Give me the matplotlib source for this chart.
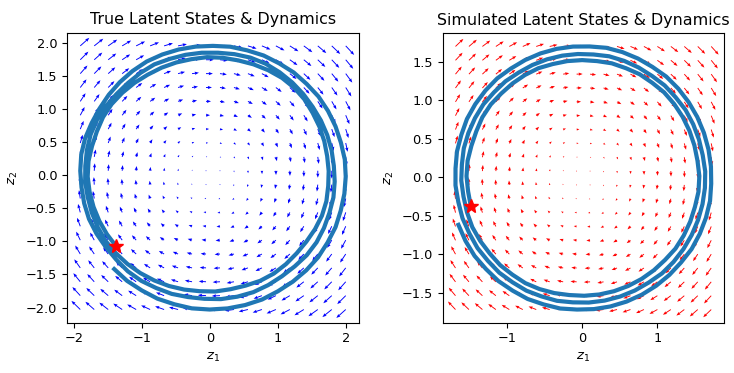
import numpy as np
import matplotlib
matplotlib.use("Agg")
import matplotlib.pyplot as plt

# trajectory radius read at evenly stepped headings (deg), clockwise from the star
true_start_heading = 218.0
true_step = -7.45
true_radius = [1.75, 1.76, 1.77, 1.78, 1.79, 1.80, 1.80, 1.79, 1.79, 1.80,
               1.80, 1.79, 1.78, 1.77, 1.77, 1.77, 1.77, 1.78, 1.78, 1.78,
               1.79, 1.80, 1.81, 1.81, 1.80, 1.78, 1.77, 1.76, 1.75, 1.75,
               1.75, 1.76, 1.76, 1.75, 1.74, 1.74, 1.75, 1.76, 1.76, 1.75,
               1.75, 1.76, 1.76, 1.77, 1.78, 1.79, 1.80, 1.81, 1.82, 1.83,
               1.83, 1.83, 1.83, 1.84, 1.84, 1.85, 1.86, 1.86, 1.85, 1.84,
               1.84, 1.85, 1.86, 1.85, 1.85, 1.85, 1.85, 1.86, 1.87, 1.87,
               1.86, 1.85, 1.84, 1.83, 1.83, 1.83, 1.83, 1.83, 1.84, 1.85,
               1.85, 1.86, 1.87, 1.87, 1.86, 1.86, 1.87, 1.88, 1.88, 1.88,
               1.87, 1.87, 1.88, 1.88, 1.89, 1.89, 1.88, 1.88, 1.89, 1.90,
               1.90, 1.90, 1.91, 1.92, 1.92, 1.91, 1.91, 1.92, 1.93, 1.94,
               1.95, 1.95, 1.95, 1.95, 1.95, 1.96, 1.96, 1.97, 1.97, 1.98,
               1.98, 1.99, 1.99, 1.99, 1.99, 2.00, 2.00, 2.00, 2.00, 2.01,
               2.01, 2.02, 2.02, 2.02, 2.02, 2.03, 2.03, 2.03, 2.03, 2.03,
               2.02, 2.02, 2.01, 2.01, 2.00]

sim_start_heading = 194.4
sim_step = -7.457
sim_radius = [1.53, 1.53, 1.54, 1.54, 1.53, 1.53, 1.54, 1.54, 1.53, 1.53,
              1.53, 1.53, 1.52, 1.52, 1.52, 1.52, 1.53, 1.53, 1.54, 1.54,
              1.55, 1.55, 1.55, 1.55, 1.55, 1.55, 1.56, 1.56, 1.55, 1.55,
              1.55, 1.55, 1.54, 1.54, 1.54, 1.54, 1.54, 1.54, 1.54, 1.54,
              1.55, 1.56, 1.57, 1.57, 1.58, 1.58, 1.59, 1.60, 1.60, 1.60,
              1.61, 1.61, 1.62, 1.62, 1.62, 1.62, 1.61, 1.61, 1.60, 1.60,
              1.60, 1.60, 1.60, 1.60, 1.61, 1.61, 1.61, 1.61, 1.62, 1.62,
              1.63, 1.63, 1.63, 1.63, 1.64, 1.64, 1.64, 1.64, 1.64, 1.64,
              1.64, 1.64, 1.63, 1.63, 1.63, 1.63, 1.63, 1.63, 1.64, 1.64,
              1.65, 1.65, 1.66, 1.66, 1.67, 1.67, 1.68, 1.68, 1.69, 1.69,
              1.70, 1.70, 1.71, 1.71, 1.71, 1.71, 1.70, 1.70, 1.70, 1.70,
              1.70, 1.70, 1.71, 1.71, 1.71, 1.71, 1.72, 1.72, 1.72, 1.72,
              1.72, 1.72, 1.72, 1.72, 1.73, 1.73, 1.73, 1.73, 1.72, 1.72,
              1.72, 1.72, 1.72, 1.72, 1.72, 1.72, 1.73, 1.73, 1.74, 1.74,
              1.75, 1.75, 1.76, 1.76, 1.76]

# clockwise rotation dynamics (per step), used for the quiver fields
true_A = np.array([[0.9978, 0.066], [-0.066, 0.9978]])
sim_A = np.array([[0.9982, 0.060], [-0.060, 0.9982]])

titles = ['True Latent States & Dynamics', 'Simulated Latent States & Dynamics']
arrow_colors = ['b', 'r']
npts = 20


def trajectory(start, step, radius):
    th = np.deg2rad(start + step * np.arange(len(radius)))
    r = np.asarray(radius)
    return np.column_stack((r * np.cos(th), r * np.sin(th)))


def plot_dynamics(ax, A, x, color):
    gx = np.linspace(x[:, 0].min(), x[:, 0].max(), npts)
    gy = np.linspace(x[:, 1].min(), x[:, 1].max(), npts)
    X, Y = np.meshgrid(gx, gy)
    xy = np.column_stack((X.ravel(), Y.ravel()))
    dxy = xy.dot(A.T) - xy
    ax.quiver(xy[:, 0], xy[:, 1], dxy[:, 0], dxy[:, 1], color=color,
              angles='xy', scale_units='xy', scale=1, width=0.0032,
              headwidth=3.5, headlength=4.5, headaxislength=4)


fig = plt.figure(figsize=(7.34, 3.73), dpi=100)
positions = [[67 / 734, 50.3 / 373, 292 / 734, 290 / 373],
             [442.7 / 734, 50.3 / 373, 281.3 / 734, 289.4 / 373]]

xs = [trajectory(true_start_heading, true_step, true_radius),
      trajectory(sim_start_heading, sim_step, sim_radius)]
As = [true_A, sim_A]

for pos, x, A, col, title in zip(positions, xs, As, arrow_colors, titles):
    ax = fig.add_axes(pos)
    plot_dynamics(ax, A, x, col)
    ax.plot(x[:, 0], x[:, 1], color='#1f77b4', lw=3)
    ax.plot(x[0, 0], x[0, 1], '*r', markersize=10)
    ax.set_title(title, fontsize=11.4)
    ax.set_xlabel('$z_1$', fontsize=9.5)
    ax.set_ylabel('$z_2$', fontsize=9.5)
    ax.tick_params(labelsize=9.3)

fig.savefig('out.png', dpi=100)
